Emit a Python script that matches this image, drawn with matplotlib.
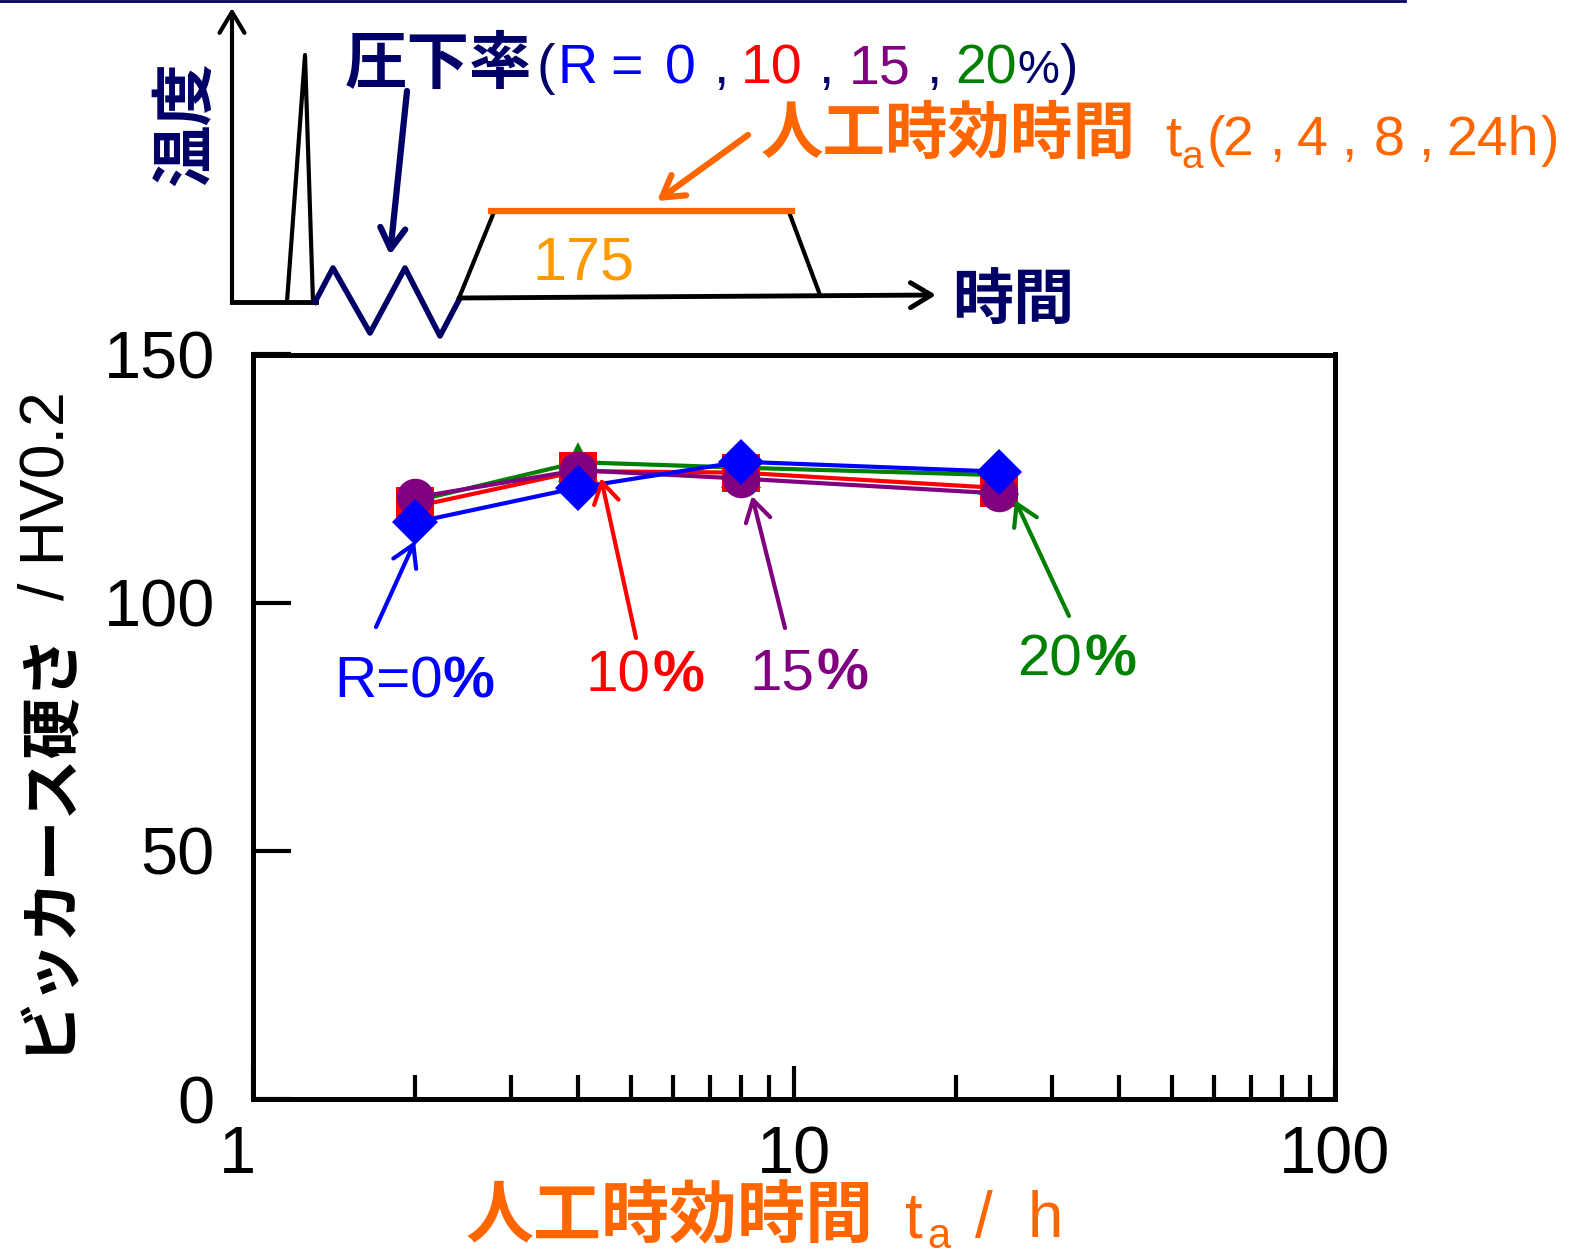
import matplotlib.pyplot as plt
from matplotlib.transforms import ScaledTranslation

# aging time (h) and Vickers hardness for each reduction ratio
hours = [2, 4, 8, 24]
hv_r0 = [116.2, 123.2, 128.4, 126.4]
hv_r10 = [119.4, 126.5, 126.2, 123.1]
hv_r15 = [121.2, 126.7, 125.0, 122.0]
hv_r20 = [120.5, 128.3, 127.2, 125.7]

yticks = [0, 50, 100, 150]
xticks = [1, 10, 100]
xticklabels = ['1', '10', '100']

SANS = ['Liberation Sans', 'Noto Sans CJK JP']
CJK = ['Noto Sans CJK JP', 'Liberation Sans']
NAVY = '#000066'
ORANGE = '#FF6600'
BLUE = '#0000FF'
RED = '#FF0000'
PURPLE = '#800080'
GREEN = '#008000'

W, H = 1577, 1257
fig = plt.figure(figsize=(W / 100, H / 100), dpi=100)

# main chart
ax = fig.add_axes([252.5 / W, 1 - 1099 / H, 1082 / W, 744.5 / H])
ax.set_xscale('log')
ax.set_xlim(1, 100)
ax.set_ylim(0, 150)

ax.plot(hours, hv_r20, color=GREEN, marker='^', ms=29, mew=0, lw=3, zorder=3)
ax.plot(hours, hv_r10, color=RED, marker='s', ms=28, mew=0, lw=3, zorder=4)
ax.plot(hours, hv_r15, color=PURPLE, marker='o', ms=27, mew=0, lw=3, zorder=5)
ax.plot(hours, hv_r0, color=BLUE, marker='D', ms=23, mew=0, lw=3, zorder=6)

for sp in ax.spines.values():
    sp.set_linewidth(3.6)
    sp.set_color('black')

ax.set_yticks(yticks)
ax.set_yticklabels([str(v) for v in yticks], fontfamily=SANS, fontsize=48)
ax.set_xticks(xticks)
ax.set_xticklabels(xticklabels, fontfamily=SANS, fontsize=48)
ax.tick_params(axis='y', direction='in', length=27, width=3, pad=27)
ax.tick_params(axis='x', which='major', direction='in', length=24, width=3, pad=19)
ax.tick_params(axis='x', which='minor', direction='in', length=17, width=3, labelbottom=False)
lbl = ax.get_xticklabels()[0]
lbl.set_transform(lbl.get_transform() + ScaledTranslation(-0.15, 0, fig.dpi_scale_trans))

# overlay in pixel coordinates for schematic and annotations
ov = fig.add_axes([0, 0, 1, 1])
ov.set_xlim(0, W)
ov.set_ylim(H, 0)
ov.axis('off')
ov.patch.set_visible(False)


def arrow(tail, head, color, lw=3, hl=0.5, hw=0.3, ms=30):
    ov.annotate('', xy=head, xytext=tail,
                arrowprops=dict(arrowstyle=f'->,head_length={hl},head_width={hw}',
                                lw=lw, color=color, shrinkA=0, shrinkB=0,
                                mutation_scale=ms))


# y label
ov.text(47, 840, 'ビッカース硬さ', rotation=90, ha='center', va='center',
        fontfamily=CJK, fontsize=44, weight='bold')
ov.text(47, 496, '/ HV0.2', rotation=90, ha='center', va='center',
        fontfamily=SANS, fontsize=45)

# x label
ov.text(466, 1237, '人工時効時間', color=ORANGE, fontfamily=CJK, fontsize=49, weight='bold')
ov.text(905, 1237, 't', color=ORANGE, fontfamily=SANS, fontsize=46)
ov.text(927, 1248, 'a', color=ORANGE, fontfamily=SANS, fontsize=30)
ov.text(975, 1237, '/', color=ORANGE, fontfamily=SANS, fontsize=46)
ov.text(1028, 1237, 'h', color=ORANGE, fontfamily=SANS, fontsize=46)

# labels for each series
ov.text(334, 697, 'R=0', color=BLUE, fontfamily=SANS, fontsize=42)
ov.text(442, 697, '%', color=BLUE, fontfamily=SANS, fontsize=42, weight='bold')
ov.text(586, 692, '10', color=RED, fontfamily=SANS, fontsize=42)
ov.text(652, 692, '%', color=RED, fontfamily=SANS, fontsize=42, weight='bold')
ov.text(750, 689, '15', color=PURPLE, fontfamily=SANS, fontsize=42)
ov.text(816, 689, '%', color=PURPLE, fontfamily=SANS, fontsize=42, weight='bold')
ov.text(1017, 676, '20', color=GREEN, fontfamily=SANS, fontsize=42)
ov.text(1084, 676, '%', color=GREEN, fontfamily=SANS, fontsize=42, weight='bold')

arrow((376, 627), (415, 541), BLUE)
arrow((636, 638), (601, 478), RED)
arrow((785, 628), (752, 496), PURPLE)
arrow((1069, 616), (1015, 500), GREEN)

# heat treatment schematic
ov.plot([0, 1405], [1, 1], color=NAVY, lw=2)
arrow((232, 302), (232, 8), 'black', lw=3)
ov.plot([232, 316], [302, 302], color='black', lw=3.5)
ov.plot([287, 305, 313], [302, 55, 302], color='black', lw=3)
ov.plot([315, 333, 370, 405, 440, 460], [302, 268, 333, 268, 336, 298], color=NAVY, lw=4)
arrow((459, 298), (936, 295), 'black', lw=3.5)
ov.plot([459, 494], [298, 212], color='black', lw=3)
ov.plot([789, 820], [212, 295], color='black', lw=3)
ov.plot([491, 792], [211, 211], color=ORANGE, lw=4.5)
arrow((407, 91), (390, 255), NAVY, lw=4.5)
arrow((748, 135), (657, 201), ORANGE, lw=4.5)

ov.text(186, 123, '温度', rotation=90, ha='center', va='center', color=NAVY,
        fontfamily=CJK, fontsize=45, weight='bold')
ov.text(952, 320, '時間', color=NAVY, fontfamily=CJK, fontsize=44, weight='bold')
ov.text(532, 280, '175', color='#FF9900', fontfamily=SANS, fontsize=44)

# first title line
ov.text(345, 83, '圧下率', color=NAVY, fontfamily=CJK, fontsize=45, weight='bold')
parts = [(536, '(', NAVY), (557, 'R', BLUE), (610, '=', BLUE), (665, '0', BLUE),
         (713, ',', NAVY), (741, '10', RED), (818, ',', NAVY), (849, '15', PURPLE),
         (926, ',', NAVY), (955, '20', GREEN), (1060, ')', NAVY)]
for x, s, c in parts:
    ov.text(x, 83, s, color=c, fontfamily=SANS, fontsize=40)
ov.text(1017, 83, '%', color=NAVY, fontfamily=SANS, fontsize=34)

# second title line
ov.text(761, 153, '人工時効時間', color=ORANGE, fontfamily=CJK, fontsize=45, weight='bold')
ov.text(1165, 155, 't', color=ORANGE, fontfamily=SANS, fontsize=42)
ov.text(1181, 168, 'a', color=ORANGE, fontfamily=SANS, fontsize=28)
parts2 = [(1206, '('), (1222, '2'), (1269, ','), (1297, '4'), (1341, ','),
          (1374, '8'), (1418, ','), (1446, '24h'), (1541, ')')]
for x, s in parts2:
    ov.text(x, 155, s, color=ORANGE, fontfamily=SANS, fontsize=40)

fig.savefig('out.png', dpi=100)
